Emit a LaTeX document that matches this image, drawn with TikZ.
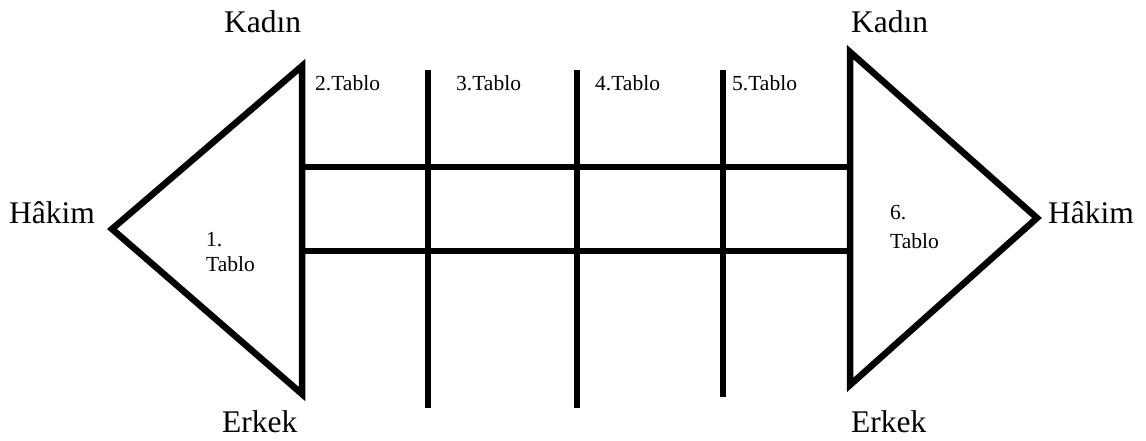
\documentclass[tikz,border=0pt]{standalone}
\usepackage{fontspec}
\setmainfont{Liberation Serif}
\tikzset{
  bar/.style={line width=6.5pt, line cap=butt, line join=miter},
  big/.style={inner sep=0pt, anchor=base west, font=\fontsize{31.5}{37}\selectfont},
  small/.style={inner sep=0pt, anchor=base west, font=\fontsize{21.5}{25}\selectfont},
}
\begin{document}
\begin{tikzpicture}[x=1pt,y=-1pt]
\useasboundingbox (0,0) rectangle (1146,440);
% left triangle
\coordinate (LT) at (302,66);
\coordinate (LB) at (302,394);
\coordinate (LA) at (112,229);
% right triangle
\coordinate (RT) at (850,52);
\coordinate (RB) at (850,385);
\coordinate (RA) at (1037,218);
\draw[bar] (LT) -- (LB) -- (LA) -- cycle;
\draw[bar] (RT) -- (RB) -- (RA) -- cycle;
% horizontal bars
\coordinate (H1a) at (302,167); \coordinate (H1b) at (850,167);
\coordinate (H2a) at (302,251); \coordinate (H2b) at (850,251);
\draw[bar] (H1a) -- (H1b);
\draw[bar] (H2a) -- (H2b);
% vertical bars
\coordinate (V1t) at (428,70); \coordinate (V1b) at (428,408);
\coordinate (V2t) at (577,70); \coordinate (V2b) at (577,408);
\coordinate (V3t) at (723,70); \coordinate (V3b) at (723,397);
\draw[bar] (V1t) -- (V1b);
\draw[bar] (V2t) -- (V2b);
\draw[bar] (V3t) -- (V3b);
% big labels
\node[big] (kadinL) at (224,32) {Kadın};
\node[big] (erkekL) at (222,432) {Erkek};
\node[big] (hakimL) at (9,223) {Hâkim};
\node[big] (kadinR) at (851,32) {Kadın};
\node[big] (erkekR) at (851,432) {Erkek};
\node[big] (hakimR) at (1048,223) {Hâkim};
% small labels
\node[small] (t2) at (315,90) {2.Tablo};
\node[small] (t3) at (456,90) {3.Tablo};
\node[small] (t4) at (595,90) {4.Tablo};
\node[small] (t5) at (732,90) {5.Tablo};
\node[small] (t1a) at (206,246) {1.};
\node[small] (t1b) at (206,271) {Tablo};
\node[small] (t6a) at (890,219) {6.};
\node[small] (t6b) at (890,248) {Tablo};
\end{tikzpicture}
\end{document}
